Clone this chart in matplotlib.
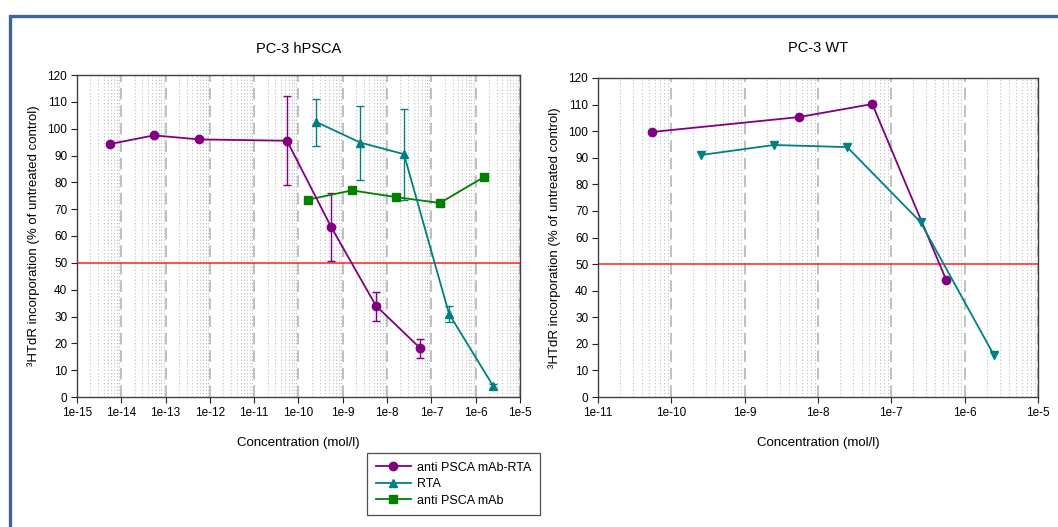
import numpy as np
import matplotlib
matplotlib.use("Agg")
import matplotlib.pyplot as plt
from matplotlib.ticker import LogLocator, FixedLocator, NullFormatter
from matplotlib.patches import Rectangle
from matplotlib.lines import Line2D

plt.rcParams['font.family'] = ['Liberation Sans', 'DejaVu Sans']

# ---- data: PC-3 hPSCA ----
conj_x = [5.6e-15, 5.5e-14, 5.6e-13, 5.5e-11, 5.4e-10, 5.6e-9, 5.5e-8]
conj_y = [94.3, 97.5, 96.0, 95.5, 63.5, 34.0, 18.3]
conj_lo = [94.3, 97.5, 96.0, 79.0, 50.5, 28.5, 14.7]
conj_hi = [94.3, 97.5, 96.0, 112.0, 76.0, 39.0, 21.5]

rta_x = [2.5e-10, 2.5e-9, 2.4e-8, 2.5e-7, 2.5e-6]
rta_y = [102.5, 94.8, 90.5, 31.0, 4.0]
rta_lo = [93.5, 81.0, 73.5, 28.0, 3.0]
rta_hi = [111.0, 108.3, 107.5, 34.0, 5.0]

mab_x = [1.6e-10, 1.6e-9, 1.6e-8, 1.55e-7, 1.55e-6]
mab_y = [73.5, 77.0, 74.5, 72.3, 82.0]

# ---- data: PC-3 WT ----
wt_conj_x = [5.5e-11, 5.5e-9, 5.5e-8, 5.6e-7]
wt_conj_y = [99.7, 105.3, 110.2, 44.0]
wt_rta_x = [2.5e-10, 2.5e-9, 2.5e-8, 2.5e-7, 2.5e-6]
wt_rta_y = [91.0, 94.8, 94.0, 65.8, 15.8]

left_decades = [1e-15, 1e-14, 1e-13, 1e-12, 1e-11, 1e-10, 1e-9, 1e-8, 1e-7, 1e-6, 1e-5]
left_labels = ['1e-15', '1e-14', '1e-13', '1e-12', '1e-11', '1e-10', '1e-9', '1e-8', '1e-7', '1e-6', '1e-5']
right_decades = [1e-11, 1e-10, 1e-9, 1e-8, 1e-7, 1e-6, 1e-5]
right_labels = ['1e-11', '1e-10', '1e-9', '1e-8', '1e-7', '1e-6', '1e-5']
y_ticks = [0, 10, 20, 30, 40, 50, 60, 70, 80, 90, 100, 110, 120]
series_names = ['anti PSCA mAb-RTA', 'RTA', 'anti PSCA mAb']

PURPLE = '#800080'
TEAL = '#008080'
GREEN = '#008000'
W, H = 1058, 527

fig = plt.figure(figsize=(W / 100, H / 100), dpi=100)

# slide frame (only top and left edges fall inside the picture)
fig.patches.append(Rectangle((9.5 / W, -0.2), 1.2, 1.2 - 15.5 / H,
                             transform=fig.transFigure, fill=False,
                             edgecolor='#3f6594', linewidth=2.4))


def style_axes(ax, decades, labels, title, tpad):
    ax.set_xscale('log')
    ax.set_xlim(decades[0], decades[-1])
    ax.set_ylim(0, 120)
    ax.xaxis.set_major_locator(FixedLocator(decades))
    ax.set_xticklabels(labels)
    ax.xaxis.set_minor_locator(LogLocator(base=10, subs=np.arange(2, 10), numticks=100))
    ax.xaxis.set_minor_formatter(NullFormatter())
    ax.set_yticks(y_ticks)
    ax.grid(True, which='major', axis='x', color='#c0c0c0', linestyle=(0, (6, 3)), linewidth=1.4)
    ax.grid(True, which='minor', axis='x', color='#bdbdbd', linestyle=(0, (1, 2)), linewidth=0.8)
    ax.set_axisbelow(True)
    ax.tick_params(axis='both', which='major', direction='out', length=4, width=0.8,
                   labelsize=8.5, color='#222222', pad=3)
    ax.tick_params(axis='x', which='minor', length=0)
    for s in ax.spines.values():
        s.set_color('#404040')
        s.set_linewidth(1.0)
    ax.axhline(50, color='#ff2020', linewidth=1.1, zorder=2)
    ax.set_title(title, fontsize=10.5, pad=tpad)
    ax.set_xlabel('Concentration (mol/l)', fontsize=9.5, labelpad=13)
    ax.set_ylabel('³HTdR incorporation (% of untreated control)', fontsize=9.5, labelpad=5)


ax1 = fig.add_axes([77 / W, 1 - 397 / H, 443 / W, 322 / H])
ax2 = fig.add_axes([598 / W, 1 - 397 / H, 440 / W, 319 / H])
style_axes(ax1, left_decades, left_labels, 'PC-3 hPSCA', 16)
style_axes(ax2, right_decades, right_labels, 'PC-3 WT', 19)

# left panel
c_y = np.array(conj_y)
ax1.errorbar(conj_x, conj_y, yerr=[c_y - np.array(conj_lo), np.array(conj_hi) - c_y],
             color=PURPLE, marker='o', markersize=6, linewidth=1.3, capsize=3,
             elinewidth=1.0, capthick=1.0, zorder=4)
r_y = np.array(rta_y)
ax1.errorbar(rta_x, rta_y, yerr=[r_y - np.array(rta_lo), np.array(rta_hi) - r_y],
             color=TEAL, marker='^', markersize=6, linewidth=1.3, capsize=3,
             elinewidth=1.0, capthick=1.0, zorder=4)
ax1.plot(mab_x, mab_y, color=GREEN, marker='s', markersize=6, linewidth=1.3, zorder=4)

# right panel
ax2.plot(wt_conj_x, wt_conj_y, color=PURPLE, marker='o', markersize=6, linewidth=1.3, zorder=4)
ax2.plot(wt_rta_x, wt_rta_y, color=TEAL, marker='v', markersize=6, linewidth=1.3, zorder=4)

handles = [Line2D([], [], color=c, marker=m, markersize=6, linewidth=1.3)
           for c, m in zip([PURPLE, TEAL, GREEN], ['o', '^', 's'])]
leg = fig.legend(handles, series_names, loc='upper left',
                 bbox_to_anchor=(367 / W, 1 - 453 / H), borderaxespad=0, fontsize=9,
                 frameon=True, fancybox=False, edgecolor='#222222',
                 handlelength=2.8, borderpad=0.7, labelspacing=0.35, handletextpad=0.5)
leg.get_frame().set_linewidth(0.9)

fig.savefig('out.png', dpi=100)
